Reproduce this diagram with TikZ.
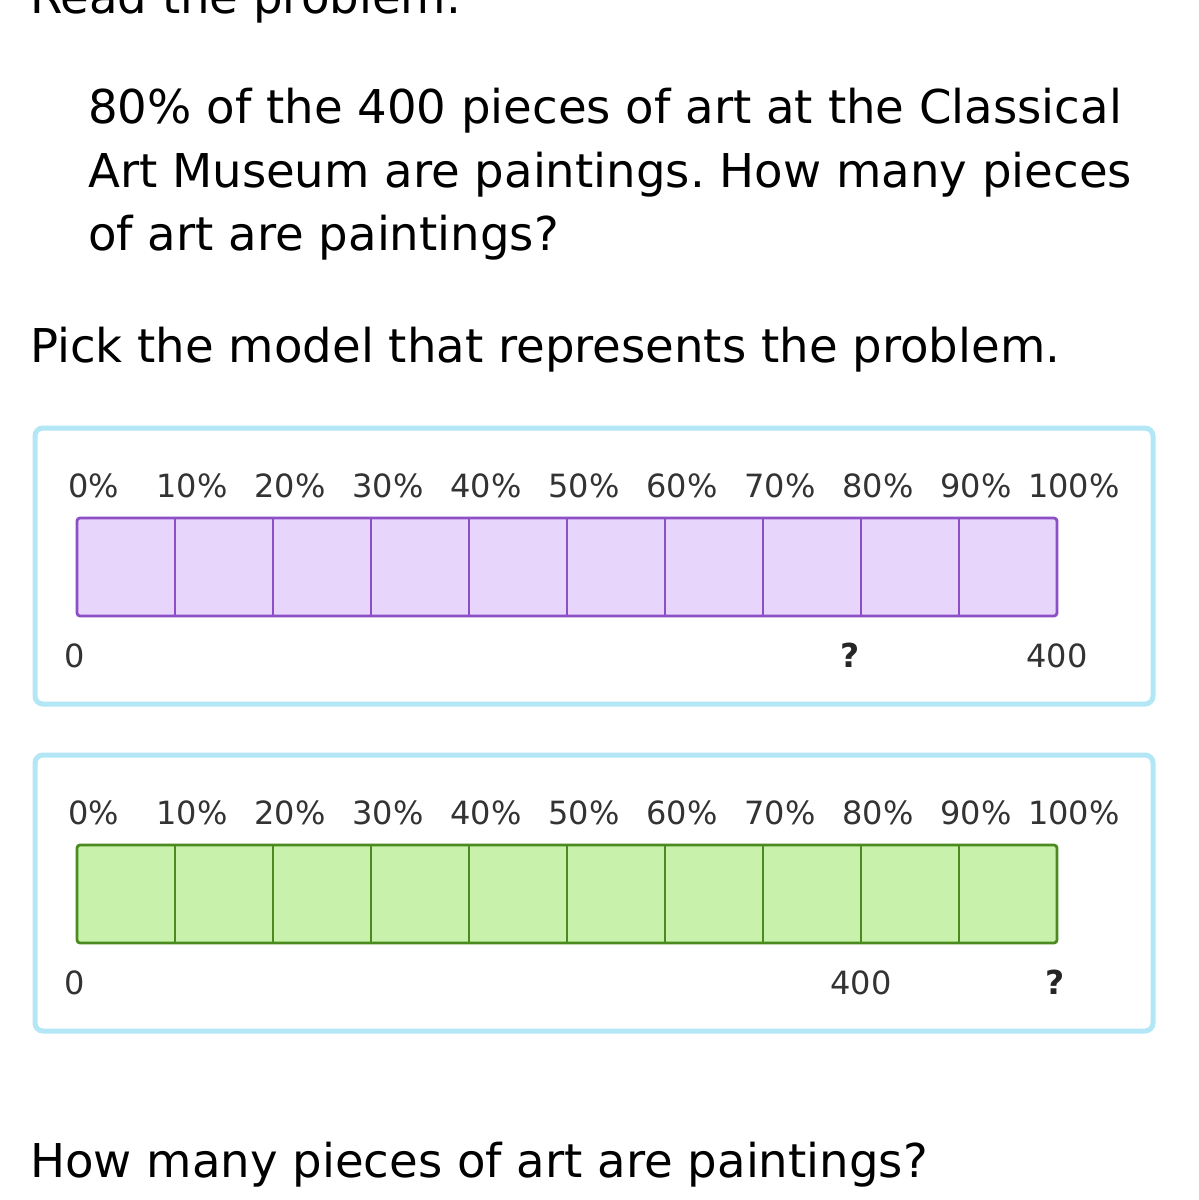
\documentclass[tikz,border=0pt]{standalone}
\usepackage{fontspec}
\setmainfont{DejaVu Sans}
\frenchspacing

\definecolor{frameblue}{HTML}{B3E7F6}
\definecolor{purplefill}{HTML}{E8D5FB}
\definecolor{purpleline}{HTML}{8D4FC6}
\definecolor{greenfill}{HTML}{C8F1AB}
\definecolor{greenline}{HTML}{4B8A1E}
\definecolor{labelgray}{HTML}{333333}

\begin{document}
\begin{tikzpicture}[x=1pt,y=-1pt,
		bigtext/.style={anchor=base west, inner sep=0pt, font=\fontsize{46.6}{64}\selectfont},
		smalltext/.style={anchor=base, inner sep=0pt, text=labelgray, font=\fontsize{32}{36}\selectfont},
		modelframe/.style={draw=frameblue, line width=5pt, rounded corners=8pt, fill=white}]
	\useasboundingbox (0,0) rectangle (1199,1200);
	\fill[white] (0,0) rectangle (1199,1200);

	\node[bigtext] (read) at (30,13) {Read the problem.};
	\node[bigtext] (qa) at (88,123) {80\% of the 400 pieces of art at the Classical};
	\node[bigtext] (qb) at (88,187) {Art Museum are paintings. How many pieces};
	\node[bigtext] (qc) at (88,250) {of art are paintings?};
	\node[bigtext] (pick) at (30,362) {Pick the model that represents the problem.};

	\foreach \i in {1,2}{
			\ifnum\i=1
				\edef\n{0pt}
				\edef\colf{purplefill}
				\edef\coll{purpleline}
			\else
				\edef\n{-327pt}
				\edef\colf{greenfill}
				\edef\coll{greenline}
			\fi
			\begin{scope}[yshift=\n]
				\draw[modelframe] (35,428) rectangle (1153,704);
				\draw[fill=\colf, draw=\coll, line width=2.8pt, rounded corners=3pt] (77,518) rectangle (1057,616);
				\foreach \k in {1,...,9}
					\draw[draw=\coll, line width=2.8pt] ({77+98*\k},518) -- ({77+98*\k},616);
				\foreach \k in {0,...,10}{
						\pgfmathtruncatemacro\pc{10*\k}
						\node[smalltext] (pct\i-\k) at ({94+98*\k},497) {\pc\%};
					}
				\node[smalltext] (zero\i) at (75,667) {0};
				\ifnum\i=1
					\node[smalltext, font=\fontsize{33}{36}\selectfont\bfseries, text=black!85] (unknown\i) at (850,667) {?};
					\node[smalltext] (total\i) at (1057,667) {400};
				\else
					\node[smalltext] (total\i) at (861,667) {400};
					\node[smalltext, font=\fontsize{33}{36}\selectfont\bfseries, text=black!85] (unknown\i) at (1055,667) {?};
				\fi
			\end{scope}
		}

	\node[bigtext] (ask) at (30,1177) {How many pieces of art are paintings?};
\end{tikzpicture}
\end{document}
